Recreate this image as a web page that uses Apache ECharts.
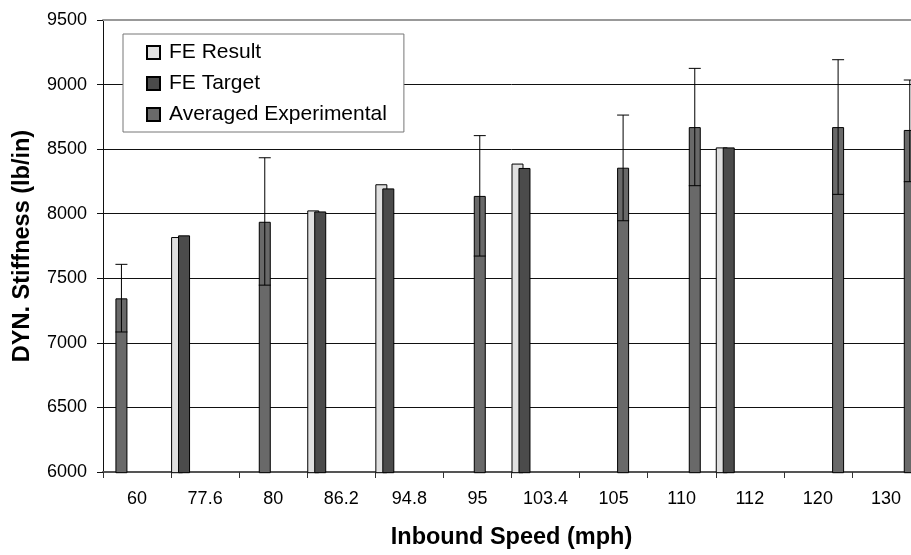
<!DOCTYPE html>
<html>
<head>
<meta charset="utf-8">
<script src="https://cdn.jsdelivr.net/npm/echarts@6/dist/echarts.min.js"></script>
<style>
html,body{margin:0;padding:0;background:#fff;overflow:hidden;width:911px;height:555px;}
#chart{width:960px;height:555px;}
</style>
</head>
<body>
<div id="chart"></div>
<script>
// ---- data ----
const categories = ['60','77.6','80','86.2','94.8','95','103.4','105','110','112','120','130'];
const feResult   = [null, 7822, null, 8028, 8230, null, 8390, null, null, 8515, null, null];
const feTarget   = [null, 7835, null, 8020, 8198, null, 8356, null, null, 8515, null, null];
const experimental = [7348, null, 7940, null, null, 8140, null, 8358, 8672, null, 8672, 8650];
const errLow     = [7088, null, 7450, null, null, 7675, null, 7948, 8219, null, 8152, 8250];
const errHigh    = [7611, null, 8435, null, null, 8606, null, 8765, 9126, null, 9193, 9036];
const yTicks = {min: 6000, max: 9500, interval: 500};
const seriesNames = ['FE Result', 'FE Target', 'Averaged Experimental'];

const errData = [];
errLow.forEach(function (lo, i) {
  if (lo != null && errHigh[i] != null) errData.push([i, lo, errHigh[i]]);
});

const FONT = 'Arial, "Liberation Sans", sans-serif';
const chart = echarts.init(document.getElementById('chart'), null, {renderer: 'canvas'});

const gridTop = 20, gridH = 452.7;
const hiddenY = function (gi) {
  return {type: 'value', gridIndex: gi, min: yTicks.min, max: yTicks.max, interval: yTicks.interval, show: false};
};

chart.setOption({
  animation: false,
  backgroundColor: '#fff',
  textStyle: {fontFamily: FONT},
  grid: [
    {left: 103, top: gridTop, width: 817, height: gridH},
    {left: 78.45, top: gridTop, width: 817, height: gridH},
    {left: 85.6, top: gridTop, width: 860, height: gridH}
  ],
  legend: {
    data: seriesNames,
    orient: 'vertical',
    left: 123, top: 34,
    padding: [8, 17, 7, 23],
    itemGap: 10,
    itemWidth: 13, itemHeight: 13,
    icon: 'rect',
    backgroundColor: '#fff',
    borderColor: '#777', borderWidth: 1,
    textStyle: {fontSize: 21, color: '#000', fontFamily: FONT, padding: [0, 0, 0, 4]}
  },
  xAxis: [
    {
      type: 'category', gridIndex: 0, data: categories,
      axisLine: {lineStyle: {color: '#555', width: 2}},
      axisTick: {show: true, length: 6, lineStyle: {color: '#333'}},
      axisLabel: {fontSize: 18, color: '#000', margin: 18, fontFamily: FONT},
      name: 'Inbound Speed (mph)', nameLocation: 'middle', nameGap: 54,
      nameTextStyle: {fontSize: 23.5, fontWeight: 'bold', color: '#000', fontFamily: FONT}
    },
    {
      type: 'category', gridIndex: 0, data: categories, position: 'top',
      axisLine: {lineStyle: {color: '#999', width: 2}},
      axisTick: {show: false}, axisLabel: {show: false}
    },
    {type: 'category', gridIndex: 1, data: categories, show: false},
    {type: 'category', gridIndex: 2, data: categories, show: false}
  ],
  yAxis: [
    {
      type: 'value', gridIndex: 0, min: yTicks.min, max: yTicks.max, interval: yTicks.interval,
      axisLine: {show: true, lineStyle: {color: '#111', width: 1}},
      axisTick: {show: true, length: 6, lineStyle: {color: '#111'}},
      axisLabel: {fontSize: 18, color: '#000', margin: 16, fontFamily: FONT,
                  formatter: function (v) { return String(v); }},
      splitLine: {show: true, lineStyle: {color: '#111', width: 1}},
      name: 'DYN. Stiffness (lb/in)', nameLocation: 'middle', nameGap: 68, nameRotate: 90,
      nameTextStyle: {fontSize: 23.5, fontWeight: 'bold', color: '#000', fontFamily: FONT}
    },
    hiddenY(1),
    hiddenY(2)
  ],
  series: [
    {
      name: seriesNames[0], type: 'bar', xAxisIndex: 2, yAxisIndex: 1,
      data: feResult, barWidth: 12, barGap: '-42%',
      itemStyle: {color: '#e0e0e0', borderColor: '#000', borderWidth: 1}
    },
    {
      name: seriesNames[1], type: 'bar', xAxisIndex: 2, yAxisIndex: 1,
      data: feTarget, barWidth: 12, barGap: '-42%',
      itemStyle: {color: '#4b4b4b', borderColor: '#000', borderWidth: 1}
    },
    {
      name: seriesNames[2], type: 'bar', xAxisIndex: 3, yAxisIndex: 2,
      data: experimental, barWidth: 12,
      itemStyle: {color: '#696969', borderColor: '#000', borderWidth: 1}
    },
    {
      name: 'error', type: 'custom', xAxisIndex: 3, yAxisIndex: 2, z: 5,
      data: errData,
      encode: {x: 0, y: [1, 2]},
      renderItem: function (params, api) {
        const i = api.value(0);
        const lo = api.coord([i, api.value(1)]);
        const hi = api.coord([i, api.value(2)]);
        const half = 6;
        const st = {stroke: '#000', lineWidth: 1};
        return {
          type: 'group',
          children: [
            {type: 'line', shape: {x1: hi[0], y1: hi[1], x2: lo[0], y2: lo[1]}, style: st},
            {type: 'line', shape: {x1: hi[0] - half, y1: hi[1], x2: hi[0] + half, y2: hi[1]}, style: st},
            {type: 'line', shape: {x1: lo[0] - half, y1: lo[1], x2: lo[0] + half, y2: lo[1]}, style: st}
          ]
        };
      }
    }
  ]
});
</script>
</body>
</html>
